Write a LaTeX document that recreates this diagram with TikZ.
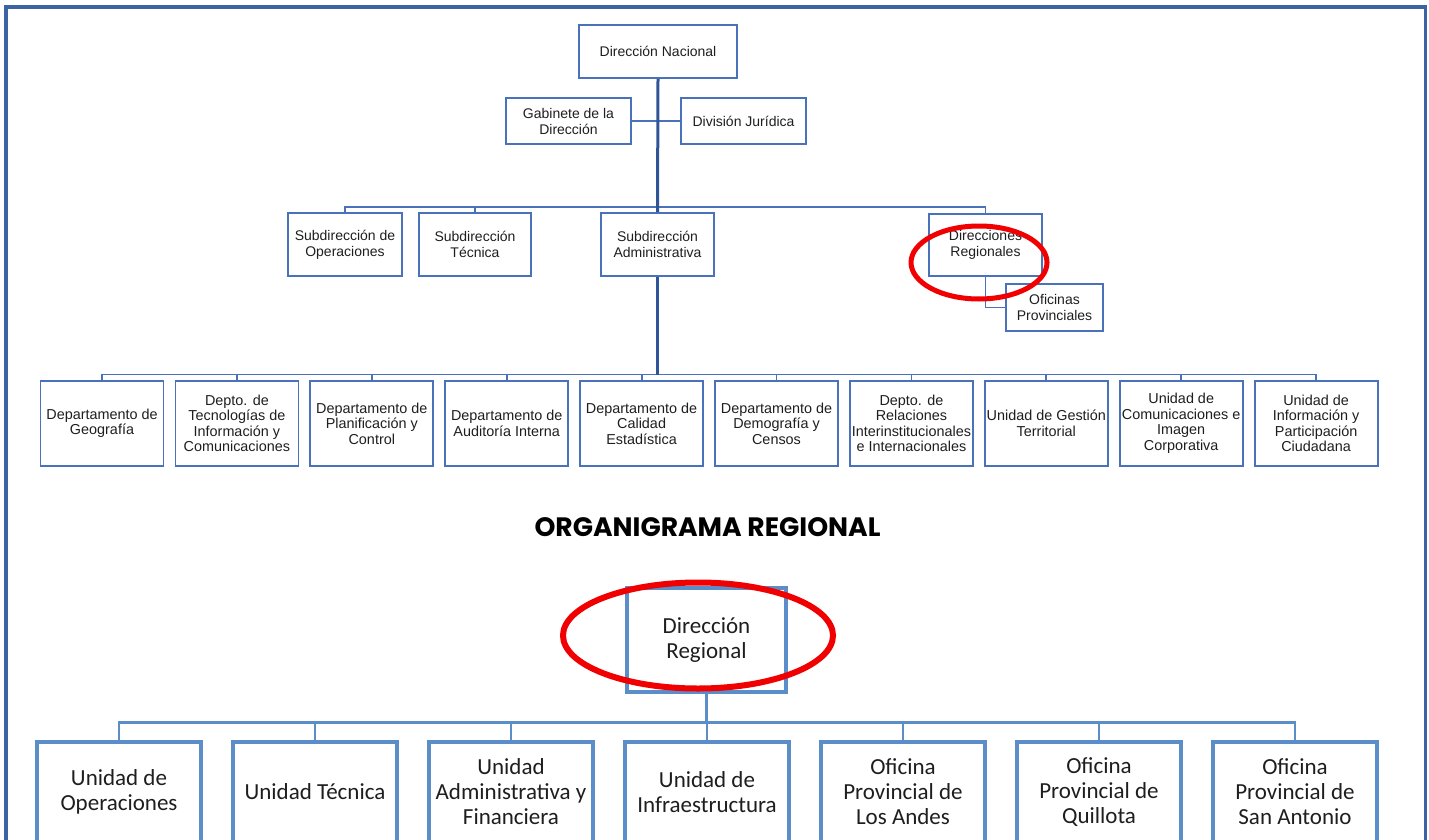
\documentclass[tikz,border=0pt]{standalone}
\usepackage{fontspec}
\setmainfont{Liberation Sans}
\newfontfamily\calfont{Carlito}
\newfontfamily\headfont{Poppins}
\usetikzlibrary{positioning}
\definecolor{framecol}{HTML}{3B64A0}
\definecolor{boxcol}{HTML}{4A72BA}
\definecolor{trunkcol}{HTML}{2F5597}
\definecolor{regcol}{HTML}{5B8EC9}
\definecolor{ringcol}{HTML}{F00000}
\definecolor{inkcol}{HTML}{1E1E1E}

\begin{document}
\begin{tikzpicture}[x=1pt,y=-1pt,
        box/.style={draw=boxcol,line width=1.8pt,inner sep=0pt,align=center,text=inkcol,font=\fontsize{14}{16}\selectfont},
        dept/.style={box,minimum width=123pt,minimum height=85pt,node distance=134.9pt,font=\fontsize{14.4}{15.5}\selectfont},
        unit/.style={draw=regcol,line width=3.5pt,inner sep=0pt,align=center,text=inkcol,minimum width=164pt,minimum height=100pt,node distance=196pt,font=\calfont\fontsize{23}{25}\selectfont},
        link/.style={draw=boxcol,line width=1.8pt},
        trunk/.style={draw=trunkcol,line width=3pt},
        rlink/.style={draw=regcol,line width=2.6pt},
        ring/.style={draw=ringcol,line width=5pt},
        frame/.style={draw=framecol,line width=3.5pt}]
        \useasboundingbox (0,0) rectangle (1429,840);
        \clip (0,0) rectangle (1429,840);
        \draw[frame] (6,850) -- (6,7) -- (1425.5,7) -- (1425.5,850);

        \node[box,minimum width=158pt,minimum height=53pt] (dn) at (658,51.5) {Dirección Nacional};
        \node[box,minimum width=125pt,minimum height=46pt] (gab) at (568.5,121) {Gabinete de la\\Dirección};
        \node[box,minimum width=125pt,minimum height=46pt] (dj) at (743.5,121) {División Jurídica};
        \node[box,minimum width=114pt,minimum height=63pt] (so) at (345,244.5) {Subdirección de\\Operaciones};
        \node[box,minimum width=112pt,minimum height=63pt] (st) at (475,244.5) {Subdirección\\Técnica};
        \node[box,minimum width=113pt,minimum height=63pt] (sa) at (657.5,244.5) {Subdirección\\Administrativa};
        \node[box,minimum width=113pt,minimum height=62pt] (dr) at (985.5,245) {Direcciones\\Regionales};
        \node[box,minimum width=97pt,minimum height=47pt] (op) at (1054.5,307.5) {Oficinas\\Provinciales};

        \node[dept] (d1) at (102,423.5) {Departamento de\\Geografía};
        \node[dept] (d2) [right of=d1] {Depto. de\\Tecnologías de\\Información y\\Comunicaciones};
        \node[dept] (d3) [right of=d2] {Departamento de\\Planificación y\\Control};
        \node[dept] (d4) [right of=d3] {Departamento de\\Auditoría Interna};
        \node[dept] (d5) [right of=d4] {Departamento de\\Calidad\\Estadística};
        \node[dept] (d6) [right of=d5] {Departamento de\\Demografía y\\Censos};
        \node[dept] (d7) [right of=d6] {Depto. de\\Relaciones\\Interinstitucionales\\e Internacionales};
        \node[dept] (d8) [right of=d7] {Unidad de Gestión\\Territorial};
        \node[dept] (d9) [right of=d8] {Unidad de\\Comunicaciones e\\Imagen\\Corporativa};
        \node[dept] (d10) [right of=d9] {Unidad de\\Información y\\Participación\\Ciudadana};

        \coordinate (bar1) at (658,207);
        \coordinate (bar2) at (657.5,374.5);
        \draw[link] (gab.east) -- (dj.west);
        \draw[link] (so.north) |- (bar1) -| (dr.north);
        \draw[link] (st.north) -- (st.north |- bar1);
        \draw[link] (dr.south) |- (op.west);
        \draw[link] (d1.north) |- (bar2) -| (d10.north);
        \foreach \i in {2,...,9}
            \draw[link] (d\i.north) -- (d\i.north |- bar2);
        \draw[trunk] (dn.south) -- (sa.north);
        \draw[trunk] (sa.south) -- (sa.south |- bar2);

        \node[text=black,font=\headfont\bfseries\fontsize{26.6}{30}\selectfont] (title) at (707.5,527) {ORGANIGRAMA REGIONAL};

        \node[unit,minimum width=159pt,minimum height=104pt] (dreg) at (706.5,640) {Dirección\\Regional};
        \node[unit] (u1) at (119,792) {Unidad de\\Operaciones};
        \node[unit] (u2) [right of=u1] {Unidad Técnica};
        \node[unit] (u3) [right of=u2] {Unidad\\Administrativa y\\Financiera};
        \node[unit] (u4) [right of=u3] {Unidad de\\Infraestructura};
        \node[unit] (u5) [right of=u4] {Oficina\\Provincial de\\Los Andes};
        \node[unit] (u6) [right of=u5] {Oficina\\Provincial de\\Quillota};
        \node[unit] (u7) [right of=u6] {Oficina\\Provincial de\\San Antonio};

        \coordinate (bar3) at (706.5,722.5);
        \draw[rlink] (u1.north) |- (bar3) -| (u7.north);
        \foreach \i in {2,...,6}
            \draw[rlink] (u\i.north) -- (u\i.north |- bar3);
        \draw[rlink] (dreg.south) -- (dreg.south |- bar3);

        \draw[ring] (979,262.5) ellipse [x radius=68pt, y radius=36.5pt];
        \draw[ring,line width=6pt] (698,635.5) ellipse [x radius=135pt, y radius=53pt];
\end{tikzpicture}
\end{document}
